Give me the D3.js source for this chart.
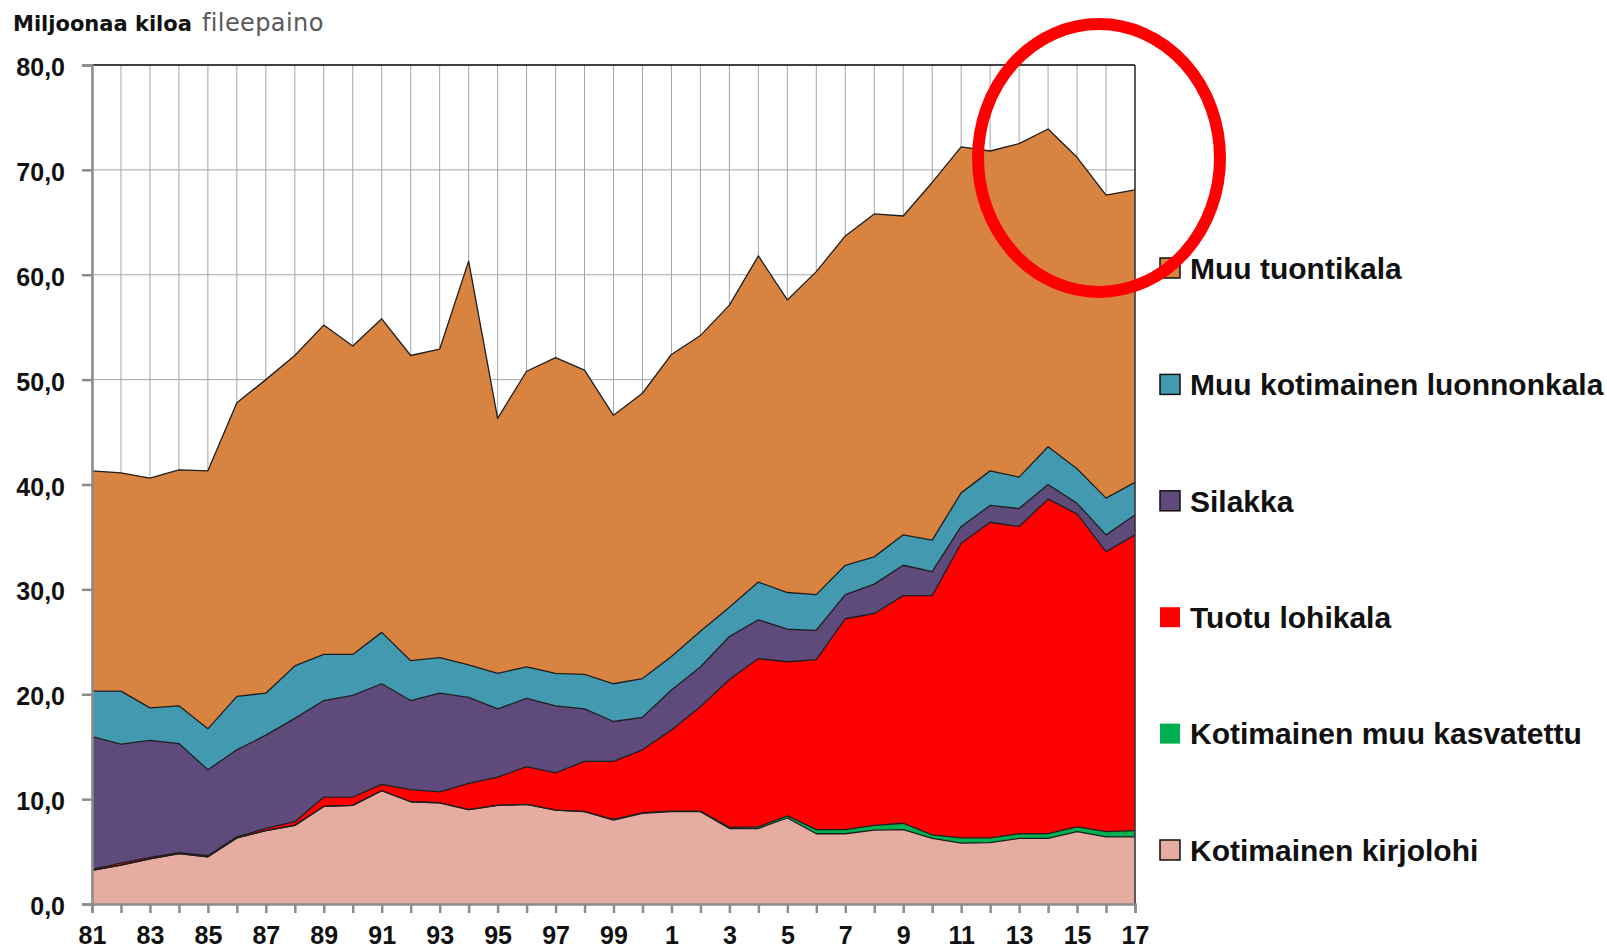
<!DOCTYPE html>
<html>
<head>
<meta charset="utf-8">
<script src="https://cdn.jsdelivr.net/npm/d3@7/dist/d3.min.js"></script>
<style>
  body { margin: 0; background: #ffffff; }
  text { font-family: "Liberation Sans", Arial, sans-serif; }
</style>
</head>
<body>
<div id="chart"></div>
<script>
// Million kg fillet weight, 1981-2017
var years = [1981, 1982, 1983, 1984, 1985, 1986, 1987, 1988, 1989, 1990,
  1991, 1992, 1993, 1994, 1995, 1996, 1997, 1998, 1999, 2000,
  2001, 2002, 2003, 2004, 2005, 2006, 2007, 2008, 2009, 2010,
  2011, 2012, 2013, 2014, 2015, 2016, 2017];

var xTickLabels = ["81", "83", "85", "87", "89", "91", "93", "95", "97", "99",
  "1", "3", "5", "7", "9", "11", "13", "15", "17"];
var yTicks = [0, 10, 20, 30, 40, 50, 60, 70, 80];

// series, bottom to top
var kirjolohi = [3.2, 3.7, 4.3, 4.8, 4.5, 6.3, 7.0, 7.5, 9.3, 9.4,
  10.8, 9.75, 9.65, 9.0, 9.4, 9.5, 8.95, 8.8, 8.0, 8.65,
  8.8, 8.8, 7.2, 7.2, 8.2, 6.7, 6.7, 7.05, 7.1, 6.25,
  5.8, 5.85, 6.25, 6.25, 6.9, 6.4, 6.4];
var muuKasvatettu = [0, 0, 0, 0, 0, 0, 0, 0, 0, 0,
  0, 0, 0, 0, 0, 0, 0, 0, 0.07, 0.05,
  0.05, 0.05, 0.1, 0.15, 0.2, 0.4, 0.4, 0.45, 0.6, 0.35,
  0.5, 0.45, 0.45, 0.45, 0.45, 0.5, 0.6];
var lohikala = [0.1, 0.2, 0.15, 0.1, 0.1, 0.1, 0.2, 0.35, 0.9, 0.8,
  0.6, 1.15, 1.05, 2.5, 2.7, 3.6, 3.55, 4.8, 5.53, 6.0,
  7.75, 9.95, 14.1, 16.05, 14.7, 16.2, 20.1, 20.2, 21.7, 22.8,
  28.1, 30.1, 29.3, 31.9, 29.85, 26.7, 28.2];
var silakka = [12.65, 11.35, 11.15, 10.4, 8.2, 8.3, 8.9, 9.85, 9.2, 9.7,
  9.6, 8.5, 9.4, 8.2, 6.5, 6.5, 6.4, 5.0, 3.8, 3.1,
  3.8, 3.8, 4.1, 3.7, 3.1, 2.8, 2.3, 2.8, 2.9, 2.3,
  1.6, 1.6, 1.7, 1.4, 1.0, 1.6, 1.9];
var luonnonkala = [4.35, 5.05, 3.1, 3.6, 3.9, 5.1, 4.0, 5.0, 4.4, 3.9,
  4.9, 3.8, 3.4, 3.1, 3.4, 3.0, 3.1, 3.3, 3.6, 3.7,
  3.2, 3.4, 2.8, 3.6, 3.5, 3.4, 2.8, 2.6, 2.9, 3.0,
  3.2, 3.3, 3.0, 3.6, 3.3, 3.5, 3.1];
var tuontikala = [21.0, 20.8, 21.9, 22.5, 24.6, 28.0, 29.9, 29.6, 31.4, 29.4,
  29.9, 29.1, 29.4, 38.5, 24.3, 28.2, 30.1, 29.0, 25.6, 27.2,
  28.8, 28.2, 28.8, 31.1, 27.9, 30.8, 31.4, 32.7, 30.4, 34.1,
  33.0, 30.5, 31.8, 30.3, 29.7, 28.9, 27.9];

var seriesKeys = ["kirjolohi", "muuKasvatettu", "lohikala", "silakka", "luonnonkala", "tuontikala"];
var seriesNames = ["Kotimainen kirjolohi", "Kotimainen muu kasvatettu", "Tuotu lohikala",
  "Silakka", "Muu kotimainen luonnonkala", "Muu tuontikala"];
var seriesColors = ["#E6ACA1", "#00B050", "#FF0000", "#5E4B7C", "#4299B0", "#D98340"];

// Defining chart area
var svgWidth = 1607;
var svgHeight = 952;

var margin = {
  top: 65,
  right: 472,
  bottom: 48,
  left: 92
};

var width = svgWidth - margin.left - margin.right;
var height = svgHeight - margin.top - margin.bottom;

var svg = d3.select("#chart")
  .append("svg")
  .attr("width", svgWidth)
  .attr("height", svgHeight);

var chartGroup = svg.append("g")
  .attr("transform", `translate(${margin.left}, ${margin.top})`);

// rows for the stack
var rows = years.map(function(y, i) {
  return {
    year: y,
    kirjolohi: kirjolohi[i],
    muuKasvatettu: muuKasvatettu[i],
    lohikala: lohikala[i],
    silakka: silakka[i],
    luonnonkala: luonnonkala[i],
    tuontikala: tuontikala[i]
  };
});

var stacked = d3.stack().keys(seriesKeys)(rows);

// Scales
var xScale = d3.scaleLinear()
  .domain([d3.min(years), d3.max(years)])
  .range([0, width]);

var yScale = d3.scaleLinear()
  .domain([0, 80])
  .range([height, 0]);

// Gridlines
chartGroup.append("g")
  .selectAll("line")
  .data(years)
  .enter()
  .append("line")
  .attr("x1", d => xScale(d))
  .attr("x2", d => xScale(d))
  .attr("y1", 0)
  .attr("y2", height)
  .attr("stroke", "#a6a6a6")
  .attr("stroke-width", 1);

chartGroup.append("g")
  .selectAll("line")
  .data(yTicks)
  .enter()
  .append("line")
  .attr("x1", 0)
  .attr("x2", width)
  .attr("y1", d => yScale(d))
  .attr("y2", d => yScale(d))
  .attr("stroke", "#a6a6a6")
  .attr("stroke-width", 1);

// Areas
var area = d3.area()
  .x(d => xScale(d.data.year))
  .y0(d => yScale(d[0]))
  .y1(d => yScale(d[1]));

chartGroup.append("g")
  .selectAll("path")
  .data(stacked)
  .enter()
  .append("path")
  .attr("d", area)
  .attr("fill", (d, i) => seriesColors[i]);

// outlines on top of every layer
var topLine = d3.line()
  .x(d => xScale(d.data.year))
  .y(d => yScale(d[1]));

chartGroup.append("g")
  .selectAll("path")
  .data(stacked)
  .enter()
  .append("path")
  .attr("d", topLine)
  .attr("fill", "none")
  .attr("stroke", "#1e1e1e")
  .attr("stroke-width", 1.3)
  .attr("stroke-linejoin", "round");

// top and right border
chartGroup.append("line")
  .attr("x1", 0).attr("x2", width)
  .attr("y1", yScale(80)).attr("y2", yScale(80))
  .attr("stroke", "#111").attr("stroke-width", 1.5);

chartGroup.append("line")
  .attr("x1", width).attr("x2", width)
  .attr("y1", yScale(80)).attr("y2", yScale(0))
  .attr("stroke", "#333").attr("stroke-width", 1.5);

// Axes
var bottomAxis = d3.axisBottom(xScale)
  .tickValues(years)
  .tickSize(9)
  .tickPadding(12)
  .tickFormat(function(d, i) {
    return i % 2 === 0 ? xTickLabels[i / 2] : "";
  });

var leftAxis = d3.axisLeft(yScale)
  .tickValues(yTicks)
  .tickSize(10)
  .tickPadding(17)
  .tickFormat(d => d.toFixed(1).replace(".", ","));

var xAxisG = chartGroup.append("g")
  .attr("transform", `translate(0, ${height})`)
  .call(bottomAxis);

var yAxisG = chartGroup.append("g")
  .call(leftAxis);

[xAxisG, yAxisG].forEach(function(g) {
  g.select(".domain").attr("stroke", "#8c8c8c").attr("stroke-width", 2.5);
  g.selectAll(".tick line").attr("stroke", "#8c8c8c").attr("stroke-width", 2.5);
  g.selectAll(".tick text")
    .attr("fill", "#111")
    .style("font-family", "'Liberation Sans', Arial, sans-serif")
    .style("font-weight", "bold");
});

xAxisG.selectAll(".tick text").style("font-size", "25px").attr("dy", "0.74em");
yAxisG.selectAll(".tick text").style("font-size", "25px").attr("dy", "0.42em");

// Title
var title = svg.append("text")
  .attr("x", 13)
  .attr("y", 31);

title.append("tspan")
  .style("font-family", "'DejaVu Sans', sans-serif")
  .style("font-weight", "bold")
  .style("font-size", "21px")
  .attr("fill", "#111")
  .text("Miljoonaa kiloa");

title.append("tspan")
  .attr("dx", 10)
  .style("font-family", "'DejaVu Sans', sans-serif")
  .style("font-size", "24px")
  .style("letter-spacing", "0.4px")
  .attr("fill", "#595959")
  .text("fileepaino");

// Legend (top to bottom is reverse of stack)
var legendOrder = d3.range(seriesNames.length).reverse();
var legendTop = 268;
var legendStep = 116.4;

var legend = svg.append("g")
  .selectAll("g")
  .data(legendOrder)
  .enter()
  .append("g")
  .attr("transform", (d, i) => `translate(1160, ${legendTop + i * legendStep})`);

legend.append("rect")
  .attr("x", 0)
  .attr("y", -10)
  .attr("width", 20)
  .attr("height", 20)
  .attr("fill", d => seriesColors[d])
  .attr("stroke", d => (d === 1 || d === 2) ? "none" : "#111")
  .attr("stroke-width", 1.5);

legend.append("text")
  .attr("x", 30)
  .attr("y", 0)
  .attr("dy", "0.36em")
  .style("font-size", "30px")
  .style("font-weight", "bold")
  .attr("fill", "#111")
  .text(d => seriesNames[d]);

// Red highlight ring
svg.append("ellipse")
  .attr("cx", 1099)
  .attr("cy", 158)
  .attr("rx", 121)
  .attr("ry", 134)
  .attr("fill", "none")
  .attr("stroke", "#FF0000")
  .attr("stroke-width", 12);
</script>
</body>
</html>
